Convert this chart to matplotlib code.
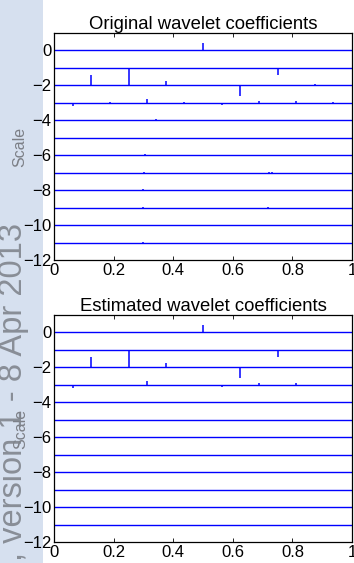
import matplotlib
matplotlib.use("Agg")
import matplotlib.pyplot as plt
from matplotlib.patches import Rectangle

plt.rcParams['font.family'] = ['Liberation Sans', 'DejaVu Sans']

# baseline levels (scale j drawn at y = -j)
levels = list(range(12))

# original wavelet coefficients: level, position, scaled value
orig_level = [0,
              1, 1,
              2, 2, 2, 2,
              3, 3, 3, 3, 3, 3, 3, 3,
              4, 4, 4, 4, 4, 4, 4, 4,
              5, 5, 5, 5, 5,
              6, 6, 6,
              7, 7, 7, 7,
              8, 8, 9, 9, 10, 10, 11]
orig_pos = [0.5,
            0.25, 0.75,
            0.125, 0.375, 0.625, 0.875,
            0.0625, 0.1875, 0.3125, 0.4375, 0.5625, 0.6875, 0.8125, 0.9375,
            0.03125, 0.21875, 0.28125, 0.34375, 0.53125, 0.71875, 0.78125, 0.84375,
            0.296875, 0.359375, 0.703125, 0.734375, 0.765625,
            0.3047, 0.3203, 0.7266,
            0.3008, 0.3086, 0.7227, 0.7305,
            0.2988, 0.7207, 0.2998, 0.7197, 0.3003, 0.7202, 0.2999]
orig_value = [0.40,
              -1.00, -0.38,
              0.57, 0.25, -0.63, 0.06,
              -0.17, 0.04, 0.20, 0.04, -0.14, 0.10, 0.10, 0.06,
              0.02, 0.02, -0.06, 0.05, 0.02, 0.02, 0.02, 0.02,
              -0.05, -0.05, -0.05, -0.06, -0.05,
              0.06, -0.03, -0.06,
              0.04, -0.04, 0.04, 0.04,
              0.04, 0.03, 0.05, 0.04, 0.03, 0.02, 0.04]

# estimated (thresholded) coefficients
est_level = [0, 1, 1, 2, 2, 2, 2, 3, 3, 3, 3, 3]
est_pos = [0.5, 0.25, 0.75, 0.125, 0.375, 0.625, 0.875,
           0.0625, 0.3125, 0.5625, 0.6875, 0.8125]
est_value = [0.40, -1.00, -0.38, 0.57, 0.25, -0.63, 0.05,
             -0.17, 0.20, -0.12, 0.09, 0.09]

xticks = [0, 0.2, 0.4, 0.6, 0.8, 1]
xticklabels = ['0', '0.2', '0.4', '0.6', '0.8', '1']
yticks = [-12, -10, -8, -6, -4, -2, 0]
yticklabels = ['\u221212', '\u221210', '\u22128', '\u22126', '\u22124', '\u22122', '0']

W, H = 354, 563
fig = plt.figure(figsize=(W / 100, H / 100), dpi=100)


def coeff_panel(rect, title, lev, pos, val, label_x):
    ax = fig.add_axes(rect)
    ax.hlines([-j for j in levels], 0, 1, color='#0000ff', lw=1.0)
    base = [-j for j in lev]
    top = [-j + v for j, v in zip(lev, val)]
    ax.vlines(pos, base, top, color='#0000ff', lw=1.1)
    ax.set_xlim(0, 1)
    ax.set_ylim(-12, 1)
    ax.set_xticks(xticks)
    ax.set_xticklabels(xticklabels)
    ax.set_yticks(yticks)
    ax.set_yticklabels(yticklabels)
    ax.tick_params(direction='in', length=3, width=0.6, labelsize=12,
                   top=True, right=True, pad=2)
    for s in ax.spines.values():
        s.set_linewidth(0.9)
    ax.set_title(title, fontsize=13.3, pad=3)
    ax.set_ylabel('Scale', fontsize=11.5, color='#7c7f86')
    ax.yaxis.set_label_coords(label_x, 0.5)
    return ax


coeff_panel([54 / W, 1 - 260 / H, 298 / W, 227 / H],
            'Original wavelet coefficients', orig_level, orig_pos, orig_value,
            -0.09)
coeff_panel([54 / W, 1 - 542 / H, 298 / W, 227 / H],
            'Estimated wavelet coefficients', est_level, est_pos, est_value,
            -0.085)

# repository stamp strip on the left edge
fig.patches.append(Rectangle((0, 0), 43 / W, 1, transform=fig.transFigure,
                             facecolor='#d6e0ef', edgecolor='none', zorder=-1))
fig.text(22 / W, 1 - 223 / H, ', version 1 - 8 Apr 2013', rotation=90,
         rotation_mode='anchor', ha='right', va='baseline',
         fontsize=23.5, color='#80858d', alpha=0.9)

fig.savefig('out.png', dpi=100)
